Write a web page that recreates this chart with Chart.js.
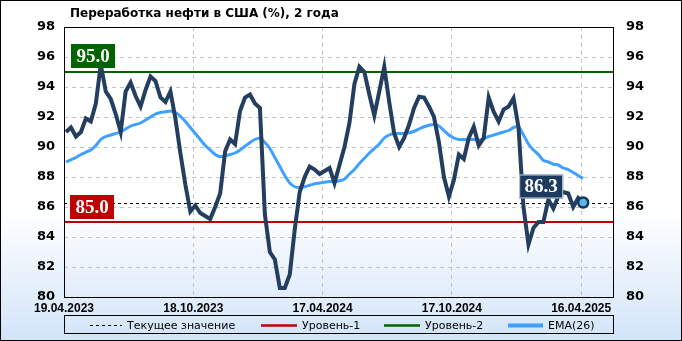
<!DOCTYPE html>
<html>
<head>
<meta charset="utf-8">
<script src="https://cdn.jsdelivr.net/npm/chart.js@4.4.1/dist/chart.umd.min.js"></script>
<style>
  html, body { margin: 0; padding: 0; background: #fff; }
</style>
</head>
<body>
<canvas id="chart" width="682" height="341"></canvas>
<script>
// weekly refinery utilization, %, 105 weeks
const dateLabels = ['19.04.2023', '18.10.2023', '17.04.2024', '17.10.2024', '16.04.2025'];

const refining = [
  91.0, 91.3, 90.7, 91.0, 91.9, 91.7, 92.9, 95.5, 93.7, 93.2,
  92.2, 91.0, 93.7, 94.3, 93.4, 92.7, 93.8, 94.7, 94.4, 93.3,
  93.0, 93.7, 91.9, 89.6, 87.5, 85.7, 86.1, 85.6, 85.4, 85.2,
  86.0, 86.9, 89.7, 90.5, 90.2, 92.4, 93.3, 93.5, 92.9, 92.6,
  85.5, 83.0, 82.5, 80.6, 80.6, 81.5, 84.5, 87.0, 88.0, 88.7,
  88.5, 88.2, 88.4, 88.6, 87.6, 88.8, 90.0, 91.6, 94.2, 95.35,
  95.0, 93.5, 92.1, 93.7, 95.35, 93.0, 90.9, 90.0, 90.6, 91.5,
  92.6, 93.35, 93.3, 92.7, 92.0, 90.3, 88.0, 86.7, 87.8, 89.5,
  89.2, 90.6, 91.35, 90.1, 90.6, 93.3, 92.35, 91.7, 92.5, 92.7,
  93.25, 91.3, 86.0, 83.5, 84.6, 85.0, 85.0, 86.5, 85.9, 86.7,
  87.0, 86.9, 86.0, 86.6, 86.3
];

const ema26 = [
  89.0, 89.15, 89.3, 89.5, 89.65, 89.8, 90.1, 90.5, 90.7, 90.8,
  90.9, 91.0, 91.2, 91.4, 91.5, 91.6, 91.8, 92.0, 92.2, 92.3,
  92.35, 92.4, 92.3, 92.05, 91.7, 91.3, 90.9, 90.5, 90.1, 89.8,
  89.5, 89.35, 89.4, 89.5, 89.6, 89.8, 90.05, 90.3, 90.5, 90.6,
  90.3, 89.9, 89.3, 88.7, 88.1, 87.6, 87.35, 87.3, 87.35, 87.45,
  87.55, 87.6, 87.65, 87.7, 87.7, 87.75, 87.85, 88.2, 88.5, 88.9,
  89.25, 89.6, 89.9, 90.2, 90.6, 90.8, 90.9, 90.9, 90.9, 90.95,
  91.05, 91.2, 91.35, 91.45, 91.5, 91.4, 91.1, 90.8, 90.6, 90.5,
  90.5, 90.5, 90.5, 90.45, 90.55, 90.7, 90.8, 90.9, 91.0, 91.1,
  91.3, 91.35, 90.8, 90.2, 89.8, 89.5, 89.1, 89.0, 88.85, 88.8,
  88.6, 88.5, 88.3, 88.1, 87.9
];

const level1 = 85.0;
const level2 = 95.0;
const last = refining.length - 1;
const current = refining[last];

const NAVY = '#243e5f';
const EMA_BLUE = '#3fa0ff';
const RED = '#c00000';
const GREEN = '#006400';
const FONT = '"Liberation Sans", Arial, sans-serif';
const WIDE = '"DejaVu Sans", Verdana, sans-serif';

function tag(ctx, text, x, yBottom, fill, border) {
  const w = 44, h = 24;
  ctx.save();
  ctx.fillStyle = fill;
  ctx.fillRect(x, yBottom - h, w, h);
  if (border) {
    ctx.strokeStyle = border;
    ctx.lineWidth = 1;
    ctx.strokeRect(x + 0.5, yBottom - h + 0.5, w - 1, h - 1);
  }
  ctx.fillStyle = '#fff';
  ctx.font = 'bold 19px "Liberation Serif", "Times New Roman", serif';
  ctx.textAlign = 'center';
  ctx.textBaseline = 'middle';
  ctx.fillText(text, x + w / 2, yBottom - h / 2 + 1);
  ctx.restore();
}

const decor = {
  id: 'decor',
  beforeDraw(chart) {
    const { ctx, chartArea: a, width, height } = chart;
    ctx.save();
    let g = ctx.createLinearGradient(0, 0, 0, height);
    g.addColorStop(0, '#ffffff');
    g.addColorStop(0.62, '#ffffff');
    g.addColorStop(1, '#d2e4f9');
    ctx.fillStyle = g;
    ctx.fillRect(0, 0, width, height);
    g = ctx.createLinearGradient(0, a.top, 0, a.bottom);
    g.addColorStop(0, '#ffffff');
    g.addColorStop(0.68, '#ffffff');
    g.addColorStop(1, '#e1ecfb');
    ctx.fillStyle = g;
    ctx.fillRect(a.left, a.top, a.right - a.left, a.bottom - a.top);
    ctx.restore();
  },
  beforeDatasetsDraw(chart) {
    const { ctx, chartArea: a } = chart;
    const y = chart.scales.y;
    ctx.save();
    ctx.strokeStyle = '#000';
    ctx.lineWidth = 1;
    ctx.setLineDash([3, 3]);
    const yc = Math.round(y.getPixelForValue(current)) + 0.5;
    ctx.beginPath();
    ctx.moveTo(a.left, yc);
    ctx.lineTo(a.right, yc);
    ctx.stroke();
    ctx.setLineDash([]);
    ctx.lineWidth = 2;
    [[level1, RED], [level2, GREEN]].forEach(([v, c]) => {
      ctx.strokeStyle = c;
      ctx.beginPath();
      ctx.moveTo(a.left, y.getPixelForValue(v));
      ctx.lineTo(a.right, y.getPixelForValue(v));
      ctx.stroke();
    });
    ctx.restore();
  },
  afterDatasetsDraw(chart) {
    const { ctx, chartArea: a } = chart;
    const y = chart.scales.y, x = chart.scales.x;
    tag(ctx, level2.toFixed(1), a.left + 7, y.getPixelForValue(level2) - 4, GREEN);
    tag(ctx, level1.toFixed(1), a.left + 6, y.getPixelForValue(level1) - 3, RED);
    tag(ctx, current.toFixed(1), x.getPixelForValue(last) - 64, y.getPixelForValue(current) - 4, '#1b3a5e', '#c8d6e6');

    // plot frame
    ctx.save();
    ctx.strokeStyle = '#000';
    ctx.lineWidth = 1;
    ctx.strokeRect(a.left + 0.5, a.top + 0.5, a.right - a.left - 1, a.bottom - a.top);
    ctx.restore();
  },
  afterDraw(chart) {
    const { ctx, width, height } = chart;
    ctx.save();
    // title
    ctx.fillStyle = '#000';
    ctx.font = 'bold 12px ' + WIDE;
    ctx.textBaseline = 'middle';
    ctx.fillText('Переработка нефти в США (%), 2 года', 70, 14);

    // legend
    ctx.strokeStyle = '#000';
    ctx.lineWidth = 1;
    ctx.strokeRect(64.5, 315.5, 549, 18);
    const ly = 325;
    const items = [
      { text: 'Текущее значение', x0: 90, x1: 122, color: '#000', w: 1, dash: [3, 3] },
      { text: 'Уровень-1', x0: 261, x1: 297, color: RED, w: 2.5 },
      { text: 'Уровень-2', x0: 384, x1: 420, color: GREEN, w: 2.5 },
      { text: 'EMA(26)', x0: 508, x1: 543, color: EMA_BLUE, w: 4 }
    ];
    ctx.font = '11px ' + WIDE;
    items.forEach(it => {
      ctx.strokeStyle = it.color;
      ctx.lineWidth = it.w;
      ctx.setLineDash(it.dash || []);
      ctx.beginPath();
      ctx.moveTo(it.x0, ly + 0.5);
      ctx.lineTo(it.x1, ly + 0.5);
      ctx.stroke();
      ctx.setLineDash([]);
      ctx.fillStyle = '#000';
      ctx.fillText(it.text, it.x1 + 5, ly + 1);
    });

    // outer border
    ctx.strokeStyle = '#000';
    ctx.lineWidth = 1;
    ctx.strokeRect(0.5, 0.5, width - 1, height - 1);
    ctx.restore();
  }
};

const xFont = { family: FONT, size: 12, weight: 'bold' };
const yFont = { family: WIDE, size: 13, weight: 'bold' };

new Chart(document.getElementById('chart'), {
  type: 'line',
  data: {
    datasets: [
      {
        label: 'Переработка',
        data: refining.map((v, i) => ({ x: i, y: v })),
        borderColor: NAVY,
        borderWidth: 4,
        tension: 0,
        pointRadius: ctx => (ctx.dataIndex === last ? 5 : 0),
        pointBackgroundColor: '#5fb6d8',
        pointBorderColor: '#123466',
        pointBorderWidth: 2.5,
        yAxisID: 'y',
        order: 1
      },
      {
        label: 'EMA(26)',
        data: ema26.map((v, i) => ({ x: i, y: v })),
        borderColor: EMA_BLUE,
        borderWidth: 3,
        tension: 0.2,
        pointRadius: 0,
        yAxisID: 'y',
        order: 2
      }
    ]
  },
  options: {
    responsive: false,
    animation: false,
    devicePixelRatio: 1,
    layout: { padding: { top: 27, left: 0, right: 0, bottom: 0 } },
    plugins: {
      legend: { display: false },
      title: { display: false },
      tooltip: { enabled: false }
    },
    scales: {
      x: {
        type: 'linear',
        min: -0.4,
        max: 110.2,
        afterBuildTicks: s => { s.ticks = dateLabels.map((_, k) => ({ value: k * 26 - 0.4 })); },
        afterFit: s => { s.height = 44; },
        ticks: {
          autoSkip: false,
          maxRotation: 0,
          padding: 4,
          color: '#000',
          font: xFont,
          callback: (v, idx) => dateLabels[idx]
        },
        grid: { color: '#c4c4c4', drawTicks: false },
        border: { display: false, dash: [4, 4] }
      },
      y: {
        position: 'left',
        min: 80,
        max: 98,
        afterFit: s => { s.width = 64; },
        ticks: { stepSize: 2, padding: 9, color: '#000', font: yFont },
        grid: { color: '#c4c4c4', drawTicks: false },
        border: { display: false, dash: [4, 4] }
      },
      y2: {
        position: 'right',
        min: 80,
        max: 98,
        afterFit: s => { s.width = 68; },
        ticks: { stepSize: 2, padding: 12, color: '#000', font: yFont },
        grid: { display: false, drawTicks: false },
        border: { display: false }
      }
    }
  },
  plugins: [decor]
});
</script>
</body>
</html>
